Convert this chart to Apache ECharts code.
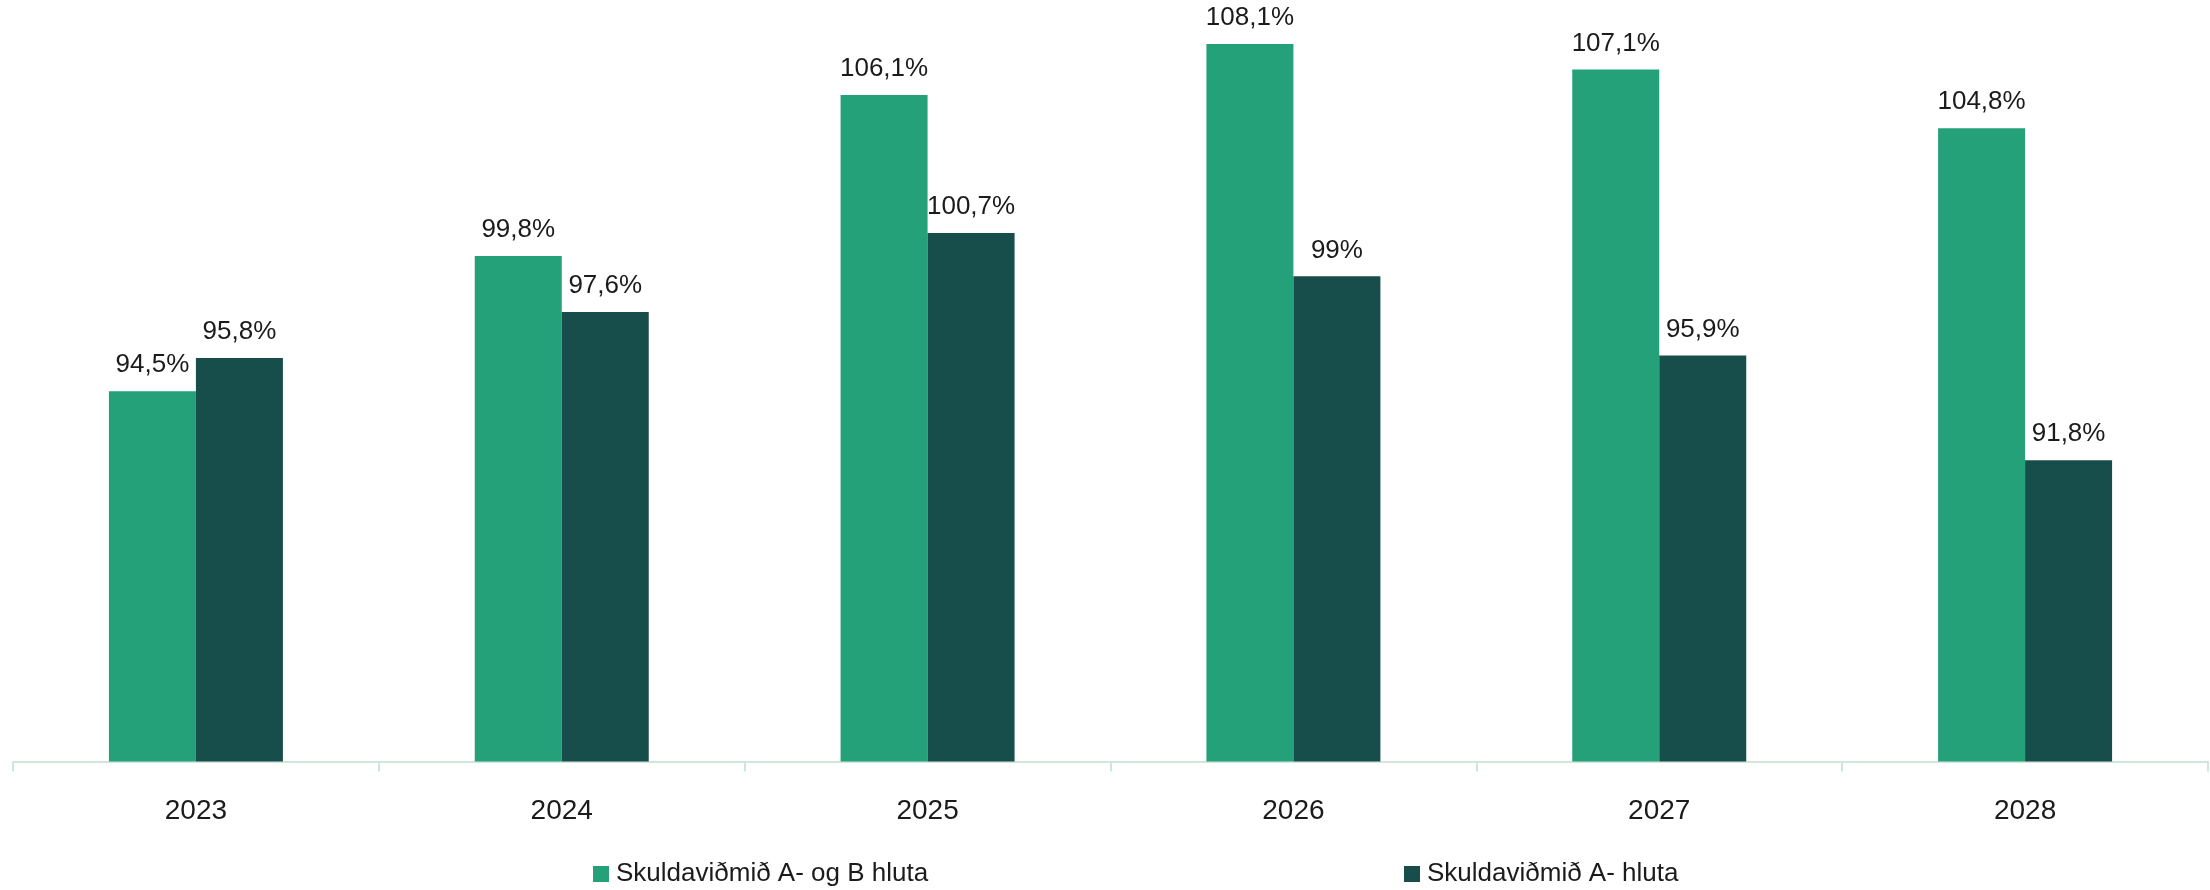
<!DOCTYPE html>
<html>
<head>
<meta charset="utf-8">
<script src="https://cdn.jsdelivr.net/npm/echarts@6/dist/echarts.min.js"></script>
<style>
html,body{margin:0;padding:0;background:#fff;}
#chart{width:2210px;height:890px;}
</style>
</head>
<body>
<div id="chart"></div>
<script>
const categories = ['2023', '2024', '2025', '2026', '2027', '2028'];
const seriesNames = ['Skuldaviðmið A- og B hluta', 'Skuldaviðmið A- hluta'];
const valuesAB = [94.5, 99.8, 106.1, 108.1, 107.1, 104.8];
const valuesA = [95.8, 97.6, 100.7, 99, 95.9, 91.8];

const fontFam = '"Liberation Sans", Arial, sans-serif';
const fmt = p => String(p.value).replace('.', ',') + '%';
const labelStyle = {
  show: true, position: 'top', distance: 13,
  fontSize: 26, color: '#1b1b1b', fontFamily: fontFam, formatter: fmt
};

const chart = echarts.init(document.getElementById('chart'), null, {renderer: 'canvas'});
chart.setOption({
  animation: false,
  backgroundColor: '#ffffff',
  grid: {left: 13, right: 2, top: 21, bottom: 128.5, containLabel: false},
  xAxis: {
    type: 'category',
    data: categories,
    axisLine: {show: true, lineStyle: {color: '#d0e6d9', width: 2}},
    axisTick: {show: true, length: 10, lineStyle: {color: '#d0e6d9', width: 2}},
    axisLabel: {fontSize: 28, color: '#1b1b1b', fontFamily: fontFam, margin: 36}
  },
  yAxis: {
    type: 'value', min: 80, max: 109, show: false,
    splitLine: {show: false}
  },
  legend: [
    {
      data: [seriesNames[0]], left: 593, top: 861, padding: 0,
      icon: 'rect', itemWidth: 16, itemHeight: 16, itemGap: 0,
      textStyle: {fontSize: 26, color: '#1b1b1b', fontFamily: fontFam, padding: [0, 0, 0, 2]}
    },
    {
      data: [seriesNames[1]], left: 1404, top: 861, padding: 0,
      icon: 'rect', itemWidth: 16, itemHeight: 16, itemGap: 0,
      textStyle: {fontSize: 26, color: '#1b1b1b', fontFamily: fontFam, padding: [0, 0, 0, 2]}
    }
  ],
  series: [
    {
      name: seriesNames[0], type: 'bar', data: valuesAB,
      barWidth: 87, barGap: '0%',
      itemStyle: {color: '#25A17A'},
      label: labelStyle
    },
    {
      name: seriesNames[1], type: 'bar', data: valuesA,
      barWidth: 87, barGap: '0%',
      itemStyle: {color: '#174E4C'},
      label: labelStyle
    }
  ]
});
</script>
</body>
</html>
